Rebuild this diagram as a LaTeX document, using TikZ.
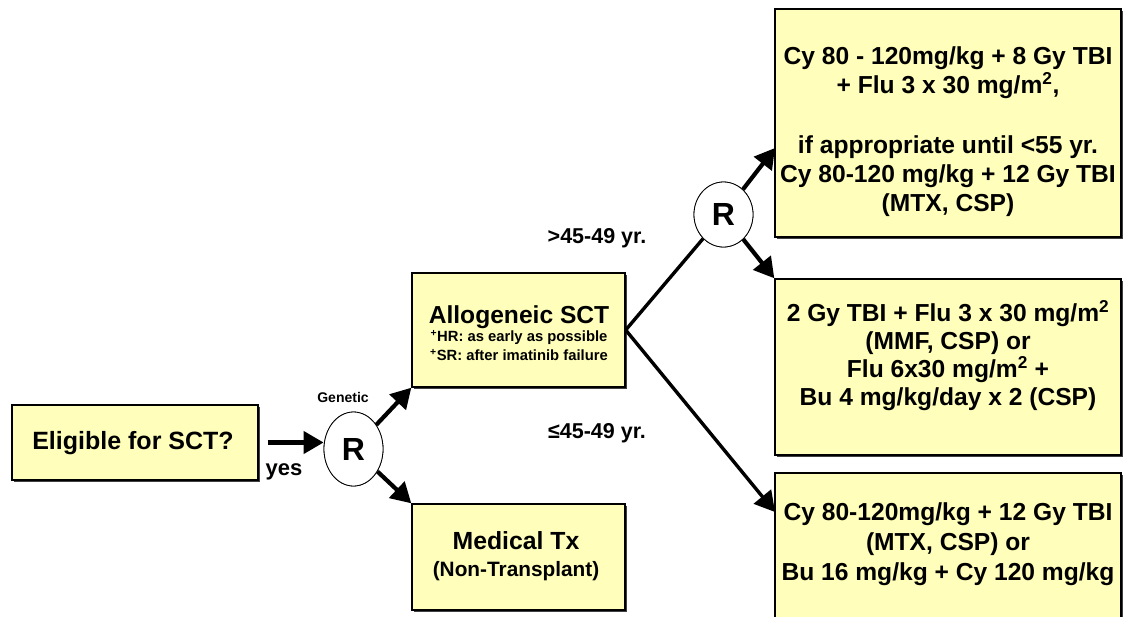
\documentclass[tikz,border=0pt]{standalone}
\usepackage{fontspec}
\setmainfont{Liberation Sans}
\usetikzlibrary{arrows.meta,shadows,shapes.geometric}
\definecolor{boxfill}{RGB}{255,255,187}
\tikzset{
  box/.style={draw=black, line width=1.4pt, fill=boxfill, inner sep=0pt,
    drop shadow={shadow xshift=2pt, shadow yshift=-2pt, fill=black!75, opacity=1}},
  txt/.style={align=center, font=\bfseries\fontsize{24.6}{29}\selectfont, inner sep=0pt},
  rnode/.style={draw=black, line width=0.8pt, fill=white, ellipse, inner sep=0pt,
    font=\bfseries\fontsize{32}{32}\selectfont},
  arr/.style={line width=4.2pt, -{Triangle[length=20pt,width=22pt]}},
  conn/.style={line width=3.4pt},
  lbl/.style={font=\bfseries\fontsize{21.5}{24}\selectfont, inner sep=0pt},
}
\begin{document}
\begin{tikzpicture}[x=1pt,y=-1pt]
\useasboundingbox (0,0) rectangle (1123,616);
% boxes
\node[box, minimum width=246pt, minimum height=75pt] (elig) at (135,442.5) {};
\node[txt, font=\bfseries\fontsize{25}{29}\selectfont] (eligt) at (133,443) {Eligible for SCT?};
\node[box, minimum width=213pt, minimum height=114pt] (allo) at (518.5,330) {};
\node[align=center, inner sep=0pt, font=\bfseries\fontsize{14.8}{19}\selectfont] (allot) at (519,333)
  {{\fontsize{24.6}{19}\selectfont Allogeneic SCT}\\[-1pt]
   \textsuperscript{+}HR: as early as possible\\
   \textsuperscript{+}SR: after imatinib failure};
\node[box, minimum width=213pt, minimum height=106pt] (med) at (518.5,557) {};
\node[align=center, inner sep=0pt, font=\bfseries\fontsize{24.8}{27}\selectfont] (medt) at (516,556)
  {Medical Tx\\{\fontsize{20.8}{27}\selectfont (Non-Transplant)}};
\node[box, minimum width=346pt, minimum height=228pt] (top) at (948,123) {};
\node[txt] (topt) at (948,132)
  {Cy 80 - 120mg/kg + 8 Gy TBI\\
   + Flu 3 x 30 mg/m\textsuperscript{2},\\[31pt]
   if appropriate until <55 yr.\\
   Cy 80-120 mg/kg + 12 Gy TBI\\
   (MTX, CSP)};
\node[box, minimum width=346pt, minimum height=176pt] (mid) at (948,367) {};
\node[txt, font=\bfseries\fontsize{24.6}{28}\selectfont] (midt) at (948,356)
  {2 Gy TBI + Flu 3 x 30 mg/m\textsuperscript{2}\\
   (MMF, CSP) or\\
   Flu 6x30 mg/m\textsuperscript{2} +\\
   Bu 4 mg/kg/day x 2 (CSP)};
\node[box, minimum width=346pt, minimum height=180pt] (bot) at (948,563) {};
\node[txt, font=\bfseries\fontsize{24.6}{30}\selectfont] (bott) at (948,544)
  {Cy 80-120mg/kg + 12 Gy TBI\\
   (MTX, CSP) or\\
   Bu 16 mg/kg + Cy 120 mg/kg};
% randomisation nodes
\node[rnode, minimum width=59pt, minimum height=74pt] (r1) at (353.5,449) {R};
\node[rnode, minimum width=59pt, minimum height=65pt] (r2) at (723.5,214.5) {R};
% labels
\node[font=\bfseries\fontsize{14}{16}\selectfont, inner sep=0pt] (gen) at (343,397) {Genetic};
\node[lbl, font=\bfseries\fontsize{22}{24}\selectfont] (yes) at (284,472) {yes};
\node[lbl] (gt) at (597,238) {>45-49 yr.};
\node[lbl] (le) at (597,433) {≤45-49 yr.};
% connector end points
\coordinate (topin) at (775,148);
\coordinate (botin) at (775,512);
% connectors
\draw[arr, shorten <=9pt] (elig.east) -- (elig.east -| r1.west);
\draw[arr] (r1) -- (allo.south west);
\draw[arr] (r1) -- (med.north west);
\draw[conn] (allo.east) -- (r2);
\draw[arr, line width=3.4pt] (allo.east) -- (botin);
\draw[arr] (r2) -- (topin);
\draw[arr] (r2) -- (mid.north west);
% redraw circles above connector starts
\node[rnode, minimum width=59pt, minimum height=74pt] (r1b) at (353.5,449) {R};
\node[rnode, minimum width=59pt, minimum height=65pt] (r2b) at (723.5,214.5) {R};
\end{tikzpicture}
\end{document}
